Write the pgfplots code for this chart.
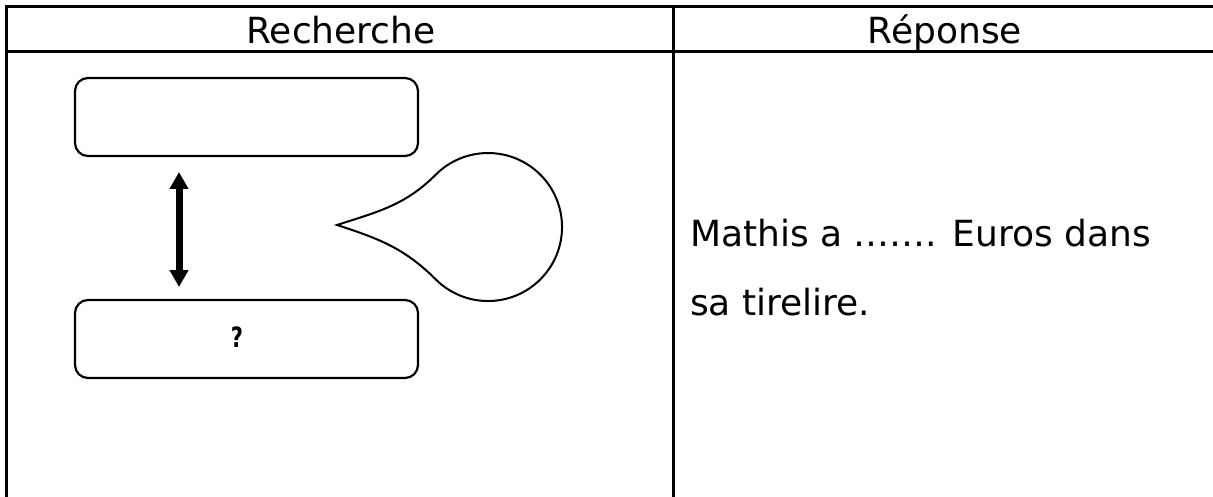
\documentclass[border=0pt]{standalone}
\usepackage{fontspec}
\setmainfont{DejaVu Sans}
\usepackage{pgfplots}
\pgfplotsset{compat=1.18}
\usetikzlibrary{arrows.meta}

\begin{document}
\begin{tikzpicture}
\begin{axis}[
    width=1213pt, height=497pt, scale only axis,
    xmin=0, xmax=1213, ymin=0, ymax=497,
    y dir=reverse,
    hide axis,
    clip mode=global,
]
% fix the page to the full picture area
\path (axis cs:0,0) rectangle (axis cs:1213,497);

% table frame (open at right and bottom, as in the source)
\addplot[black, line width=3pt, line join=miter, forget plot] coordinates {(6,497) (6,7) (1213,7)};
\addplot[black, line width=3pt, forget plot] coordinates {(6,52) (1213,52)};
\addplot[black, line width=3pt, forget plot] coordinates {(673,7) (673,497)};

% headers
\node[anchor=base, inner sep=0pt, font=\fontsize{36}{43}\selectfont] at (axis cs:341,44) {Recherche};
\node[anchor=base, inner sep=0pt, font=\fontsize{36}{43}\selectfont] at (axis cs:945,44) {Réponse};

% boxes
\draw[line width=2.2pt, rounded corners=13pt] (axis cs:75,78) rectangle (axis cs:418,156);
\draw[line width=2.2pt, rounded corners=13pt] (axis cs:75,300) rectangle (axis cs:418,378);
\node[inner sep=0pt, font=\fontsize{28}{30}\selectfont\bfseries] at (axis cs:237,337) {\scalebox{0.75}[1]{?}};

% double arrow
\addplot[black, line width=7pt,
    {Triangle[width=18pt,length=17pt]}-{Triangle[width=18pt,length=17pt]}, forget plot]
    coordinates {(179,172) (179,287)};

% teardrop
\draw[line width=2pt, line join=miter]
    (axis cs:337,225) to[out=18,in=225] (axis cs:435.7,174.7)
    arc[start angle=135, end angle=-135, radius=74pt]
    to[out=135,in=-18] (axis cs:337,225) -- cycle;

% answer text
\node[anchor=base west, inner sep=0pt, font=\fontsize{36}{43}\selectfont] at (axis cs:690,247) {Mathis a ……. Euros dans};
\node[anchor=base west, inner sep=0pt, font=\fontsize{36}{43}\selectfont] at (axis cs:690,315) {sa tirelire.};
\end{axis}
\end{tikzpicture}
\end{document}
